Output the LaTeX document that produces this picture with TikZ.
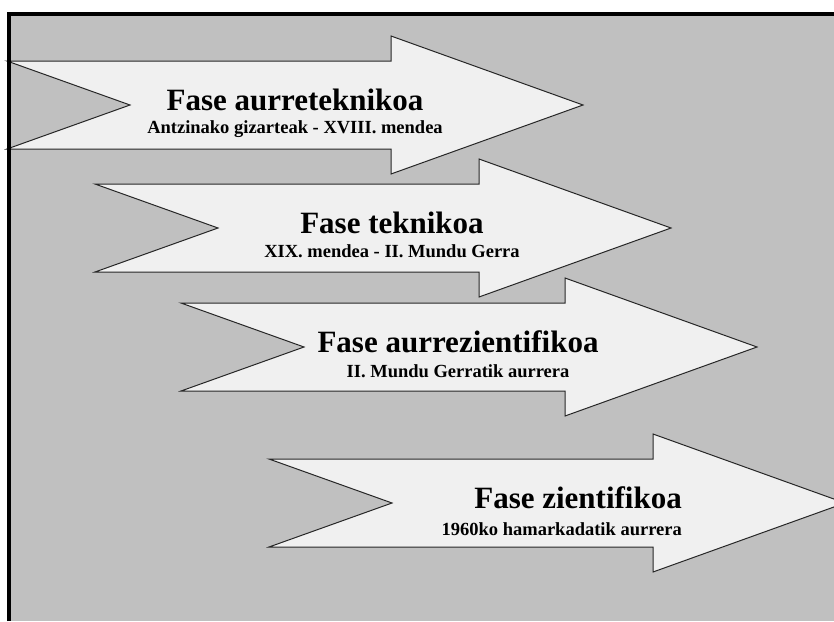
\documentclass[tikz,border=0pt]{standalone}
\usepackage{fontspec}
\setmainfont{Liberation Serif}
\definecolor{atzegris}{HTML}{C0C0C0}
\definecolor{geziabete}{HTML}{F0F0F0}
\begin{document}
\begin{tikzpicture}[x=1pt,y=-1pt,
    gezia/.style={fill=geziabete,draw=black!85,line width=1pt,line join=miter},
    izena/.style={font=\bfseries\fontsize{31}{34}\selectfont,inner sep=0pt,anchor=base},
    garaia/.style={font=\bfseries\fontsize{18.5}{21}\selectfont,inner sep=0pt,anchor=base}]
  \useasboundingbox (0,0) rectangle (834,621);
  \clip (0,0) rectangle (834,621);
  \fill[white] (0,0) rectangle (834,621);
  \fill[atzegris] (9,13) rectangle (834,621);
  \begin{scope}[shift={(7,105)}]
    \draw[gezia] (0,-44) -- (384,-44) -- (384,-69) -- (576,0) -- (384,69) -- (384,44) -- (0,44) -- (123,0) -- cycle;
  \end{scope}
  \begin{scope}[shift={(95,228)}]
    \draw[gezia] (0,-44) -- (384,-44) -- (384,-69) -- (576,0) -- (384,69) -- (384,44) -- (0,44) -- (123,0) -- cycle;
  \end{scope}
  \begin{scope}[shift={(181,347)}]
    \draw[gezia] (0,-44) -- (384,-44) -- (384,-69) -- (576,0) -- (384,69) -- (384,44) -- (0,44) -- (123,0) -- cycle;
  \end{scope}
  \begin{scope}[shift={(269,503)}]
    \draw[gezia] (0,-44) -- (384,-44) -- (384,-69) -- (576,0) -- (384,69) -- (384,44) -- (0,44) -- (123,0) -- cycle;
  \end{scope}
  \draw[line width=4pt,line join=miter] (9,621) -- (9,13.5) -- (834,13.5);
  \node[izena] (f1) at (295,110) {Fase aurreteknikoa};
  \node[garaia] (d1) at (295,133) {Antzinako gizarteak - XVIII. mendea};
  \node[izena] (f2) at (392,233) {Fase teknikoa};
  \node[garaia] (d2) at (392,257) {XIX. mendea - II. Mundu Gerra};
  \node[izena] (f3) at (458,352) {Fase aurrezientifikoa};
  \node[garaia] (d3) at (458,377) {II. Mundu Gerratik aurrera};
  \node[izena,anchor=base east] (f4) at (682,508) {Fase zientifikoa};
  \node[garaia,anchor=base east] (d4) at (682,535) {1960ko hamarkadatik aurrera};
\end{tikzpicture}
\end{document}
